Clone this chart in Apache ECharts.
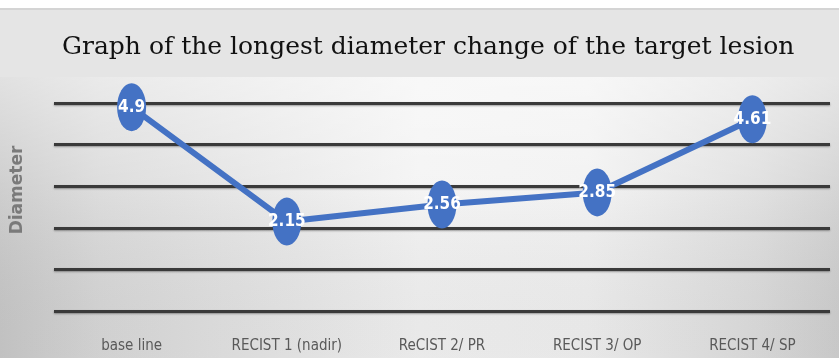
<!DOCTYPE html>
<html>
<head>
<meta charset="utf-8">
<style>
  html, body { margin: 0; padding: 0; background: #ffffff; }
  #chart { width: 839px; height: 358px; }
</style>
<script src="https://cdn.jsdelivr.net/npm/echarts@6/dist/echarts.min.js"></script>
</head>
<body>
<div id="chart"></div>
<script>
// Time points of the assessment
const categories = ['base line', 'RECIST 1 (nadir)', 'ReCIST 2/ PR', 'RECIST 3/ OP', 'RECIST 4/ SP'];
// Longest diameter of the target lesion at each time point
const diameters = [4.9, 2.15, 2.56, 2.85, 4.61];
// Value range of the vertical axis (gridlines only, no tick labels)
const yTicks = [0, 1, 2, 3, 4, 5];

const chart = echarts.init(document.getElementById('chart'), null, { renderer: 'canvas' });

const narrow = '"Liberation Sans Narrow", "DejaVu Sans Condensed", "Liberation Sans", sans-serif';

chart.setOption({
  animation: false,
  backgroundColor: '#ffffff',
  graphic: [
    // shaded plot panel: grey at the sides, pale in the middle
    {
      type: 'rect', z: -10, silent: true,
      shape: { x: 0, y: 77, width: 839, height: 281 },
      style: {
        fill: {
          type: 'linear', x: 0, y: 0, x2: 1, y2: 0,
          colorStops: [
            { offset: 0, color: '#c9c9c9' },
            { offset: 0.12, color: '#d9d9d9' },
            { offset: 0.5, color: '#f3f3f3' },
            { offset: 0.7, color: '#f1f1f1' },
            { offset: 0.9, color: '#dedede' },
            { offset: 1, color: '#d0d0d0' }
          ]
        }
      }
    },
    // soft highlight near the top of the panel
    {
      type: 'rect', z: -9, silent: true,
      shape: { x: 0, y: 77, width: 839, height: 281 },
      style: {
        fill: {
          type: 'linear', x: 0, y: 0, x2: 0, y2: 1,
          colorStops: [
            { offset: 0, color: 'rgba(255,255,255,0.45)' },
            { offset: 0.4, color: 'rgba(255,255,255,0.1)' },
            { offset: 1, color: 'rgba(0,0,0,0.04)' }
          ]
        }
      }
    },
    // title band
    {
      type: 'rect', z: -9, silent: true,
      shape: { x: 0, y: 9, width: 839, height: 68 },
      style: { fill: '#e5e5e5' }
    },
    {
      type: 'rect', z: -9, silent: true,
      shape: { x: 0, y: 8, width: 839, height: 2 },
      style: { fill: '#d4d4d4' }
    },
    // vertical axis title
    {
      type: 'text', silent: true,
      x: 18, y: 190, rotation: Math.PI / 2,
      style: {
        text: 'Diameter',
        fill: '#7a7a7a',
        font: 'bold 17px "DejaVu Sans", sans-serif',
        align: 'center', verticalAlign: 'middle'
      }
    }
  ],
  title: {
    text: 'Graph of the longest diameter change of the target lesion',
    left: 57,
    top: 30,
    textStyle: {
      fontFamily: '"DejaVu Serif", "Liberation Serif", serif',
      fontWeight: 'normal',
      fontSize: 25,
      color: '#111111'
    }
  },
  grid: { left: 54, right: 9, top: 103, bottom: 47 },
  xAxis: {
    type: 'category',
    data: categories,
    boundaryGap: true,
    axisLine: { show: false },
    axisTick: { show: false },
    axisLabel: {
      color: '#595959',
      fontFamily: narrow,
      fontSize: 15,
      margin: 28
    }
  },
  yAxis: {
    type: 'value',
    min: yTicks[0],
    max: yTicks[yTicks.length - 1],
    interval: 1,
    axisLine: { show: false },
    axisTick: { show: false },
    axisLabel: { show: false },
    splitLine: {
      show: true,
      lineStyle: {
        color: '#3a3a3a', width: 3,
        shadowColor: 'rgba(0,0,0,0.35)', shadowBlur: 2, shadowOffsetY: 1
      }
    }
  },
  series: [{
    type: 'line',
    data: diameters,
    symbol: 'circle',
    symbolSize: [29, 48],
    lineStyle: { color: '#4472c4', width: 6 },
    itemStyle: { color: '#4472c4', borderColor: '#4472c4', borderWidth: 0 },
    label: {
      show: true,
      position: 'inside',
      color: '#ffffff',
      fontFamily: '"DejaVu Sans Condensed", ' + narrow,
      fontWeight: 'bold',
      fontSize: 17,
      formatter: p => String(p.value)
    },
    z: 5
  }]
});
</script>
</body>
</html>
